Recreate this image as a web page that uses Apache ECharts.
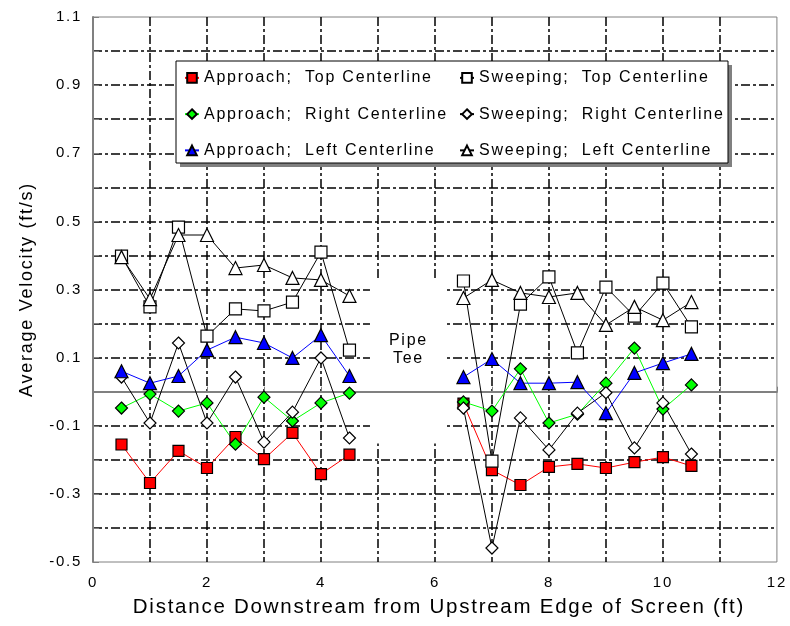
<!DOCTYPE html>
<html>
<head>
<meta charset="utf-8">
<script src="https://cdn.jsdelivr.net/npm/echarts@6/dist/echarts.min.js"></script>
<style>html,body{margin:0;padding:0;background:#fff;}#chart{width:790px;height:626px;}</style>
</head>
<body>
<div id="chart"></div>
<script>
// ---- data ----
const distance = [0.5, 1, 1.5, 2, 2.5, 3, 3.5, 4, 4.5, 6.5, 7, 7.5, 8, 8.5, 9, 9.5, 10, 10.5];
const gapAfterIndex = 8; // lines are broken across the pipe tee
const approachTop   = [-0.155, -0.268, -0.174, -0.224, -0.133, -0.198, -0.121, -0.242, -0.185,  -0.035, -0.230, -0.274, -0.221, -0.212, -0.224, -0.207, -0.192, -0.218];
const approachRight = [-0.048, -0.007, -0.057, -0.033, -0.154, -0.016, -0.086, -0.033, -0.004,  -0.030, -0.057, 0.067, -0.092, -0.066, 0.025, 0.128, -0.051, 0.020];
const approachLeft  = [0.060, 0.025, 0.046, 0.122, 0.160, 0.143, 0.099, 0.166, 0.046,  0.043, 0.096, 0.025, 0.025, 0.028, -0.063, 0.055, 0.084, 0.111];
const sweepingTop   = [0.398, 0.249, 0.483, 0.163, 0.243, 0.237, 0.263, 0.410, 0.122,  0.325, -0.204, 0.257, 0.337, 0.114, 0.307, 0.222, 0.319, 0.190];
const sweepingRight = [0.043, -0.092, 0.143, -0.092, 0.043, -0.148, -0.060, 0.099, -0.136,  -0.048, -0.459, -0.077, -0.171, -0.063, -0.003, -0.165, -0.033, -0.183];
const sweepingLeft  = [0.395, 0.272, 0.460, 0.460, 0.363, 0.372, 0.334, 0.328, 0.281,  0.275, 0.328, 0.290, 0.278, 0.290, 0.196, 0.249, 0.210, 0.263];
const seriesNames = [
  'Approach;  Top Centerline', 'Sweeping;  Top Centerline',
  'Approach;  Right Centerline', 'Sweeping;  Right Centerline',
  'Approach;  Left Centerline', 'Sweeping;  Left Centerline'
];
const xTicks = [0, 2, 4, 6, 8, 10, 12];
const yTicks = [-0.5, -0.3, -0.1, 0.1, 0.3, 0.5, 0.7, 0.9, 1.1];
const teeBox = [[4.86, 0.33], [6.21, -0.152]];
const teeText = 'Pipe\nTee';

// the reference's text is drawn with a slightly widened letter spacing
(function () {
  const orig = HTMLCanvasElement.prototype.getContext;
  HTMLCanvasElement.prototype.getContext = function (type, opts) {
    const c = orig.call(this, type, opts);
    if (type === '2d' && c && 'letterSpacing' in c) c.letterSpacing = '1.75px';
    return c;
  };
})();

// ---- build ----
function pairs(vals) {
  const out = [];
  vals.forEach((v, i) => {
    out.push([distance[i], v]);
    if (i === gapAfterIndex) out.push([(distance[i] + distance[i + 1]) / 2, '-']);
  });
  return out;
}
const FONT = "'Liberation Sans', Arial, sans-serif";
const styles = [
  { data: approachTop,   symbol: 'rect',     size: 11, fill: '#ff0000', line: '#ff0000' },
  { data: sweepingTop,   symbol: 'rect',     size: 12, fill: '#ffffff', line: '#000000' },
  { data: approachRight, symbol: 'diamond',  size: 12, fill: '#00ff00', line: '#00ff00' },
  { data: sweepingRight, symbol: 'diamond',  size: 12, fill: '#ffffff', line: '#000000' },
  { data: approachLeft,  symbol: 'triangle', size: 13, fill: '#0000ff', line: '#0000ff' },
  { data: sweepingLeft,  symbol: 'triangle', size: 13, fill: '#ffffff', line: '#000000' }
];
const series = styles.map((s, i) => ({
  name: seriesNames[i],
  type: 'line',
  z: 5,
  data: pairs(s.data),
  connectNulls: false,
  symbol: s.symbol,
  symbolSize: s.size,
  showAllSymbol: true,
  animation: false,
  itemStyle: { color: s.fill, borderColor: '#000', borderWidth: 1.2 },
  lineStyle: { color: s.line, width: 1 }
}));
series.push({
  name: 'zero', type: 'line', data: [], z: 2, silent: true, animation: false,
  markLine: { silent: true, symbol: 'none', label: { show: false }, animation: false,
    lineStyle: { color: '#808080', type: 'solid', width: 2 }, data: [{ yAxis: 0 }] }
});
series.push({
  name: 'tee', type: 'line', data: [], z: 3, silent: true, animation: false,
  markArea: { silent: true, animation: false,
    itemStyle: { color: '#ffffff', opacity: 1, borderWidth: 0 },
    label: { show: true, position: 'inside', formatter: teeText, color: '#000', fontFamily: FONT, fontSize: 16, lineHeight: 18, offset: [0, -12] },
    data: [[{ coord: teeBox[0] }, { coord: teeBox[1] }]] }
});

const gridDash = { color: '#000', width: 1.5, type: [9, 3, 3, 3] };
const legendText = { fontFamily: FONT, fontSize: 16, color: '#000', lineHeight: 16 };
const option = {
  backgroundColor: '#fff',
  animation: false,
  textStyle: { fontFamily: FONT },
  grid: { left: 93, right: 13, top: 17, bottom: 64, show: true, borderColor: '#808080', borderWidth: 1 },
  xAxis: {
    type: 'value', min: 0, max: 12, interval: 1,
    name: 'Distance Downstream from Upstream Edge of Screen (ft)',
    nameLocation: 'middle', nameGap: 34,
    nameTextStyle: { fontFamily: FONT, fontSize: 20.5, color: '#000', padding: [0, 0, 0, 8] },
    axisLine: { show: true, lineStyle: { color: '#808080', width: 2 } },
    axisTick: { show: true, inside: true, length: 5, lineStyle: { color: '#808080' } },
    axisLabel: { fontFamily: FONT, fontSize: 15, color: '#000', margin: 12,
      formatter: v => (xTicks.some(t => Math.abs(t - v) < 1e-6) ? String(v) : '') },
    splitLine: { show: true, showMinLine: false, showMaxLine: false, lineStyle: gridDash }
  },
  yAxis: {
    type: 'value', min: -0.5, max: 1.1, interval: 0.1,
    name: 'Average Velocity (ft/s)',
    nameLocation: 'middle', nameGap: 56,
    nameTextStyle: { fontFamily: FONT, fontSize: 18, color: '#000' },
    axisLine: { show: true, lineStyle: { color: '#808080', width: 2 } },
    axisTick: { show: true, inside: true, length: 6, lineStyle: { color: '#808080' } },
    axisLabel: { fontFamily: FONT, fontSize: 15, color: '#000', margin: 11,
      formatter: v => (yTicks.some(t => Math.abs(t - v) < 1e-6) ? v.toFixed(1) : '') },
    splitLine: { show: true, showMinLine: false, showMaxLine: false, lineStyle: gridDash }
  },
  legend: [
    { data: [seriesNames[0], seriesNames[2], seriesNames[4]], orient: 'vertical', left: 184, top: 69,
      padding: 0, itemGap: 18.5, itemWidth: 14, itemHeight: 12, z: 20, selectedMode: false,
      textStyle: legendText },
    { data: [seriesNames[1], seriesNames[3], seriesNames[5]], orient: 'vertical', left: 459, top: 69,
      padding: 0, itemGap: 18.5, itemWidth: 14, itemHeight: 12, z: 20, selectedMode: false,
      textStyle: legendText }
  ],
  graphic: [
    { type: 'rect', z: 15, silent: true, shape: { x: 180, y: 65, width: 552, height: 102 }, style: { fill: '#808080' } },
    { type: 'rect', z: 16, silent: true, shape: { x: 176, y: 61, width: 552, height: 102 }, style: { fill: '#fff', stroke: '#000', lineWidth: 1 } }
  ],
  series: series
};
const chart = echarts.init(document.getElementById('chart'), null, { renderer: 'canvas' });
chart.setOption(option);
</script>
</body>
</html>
